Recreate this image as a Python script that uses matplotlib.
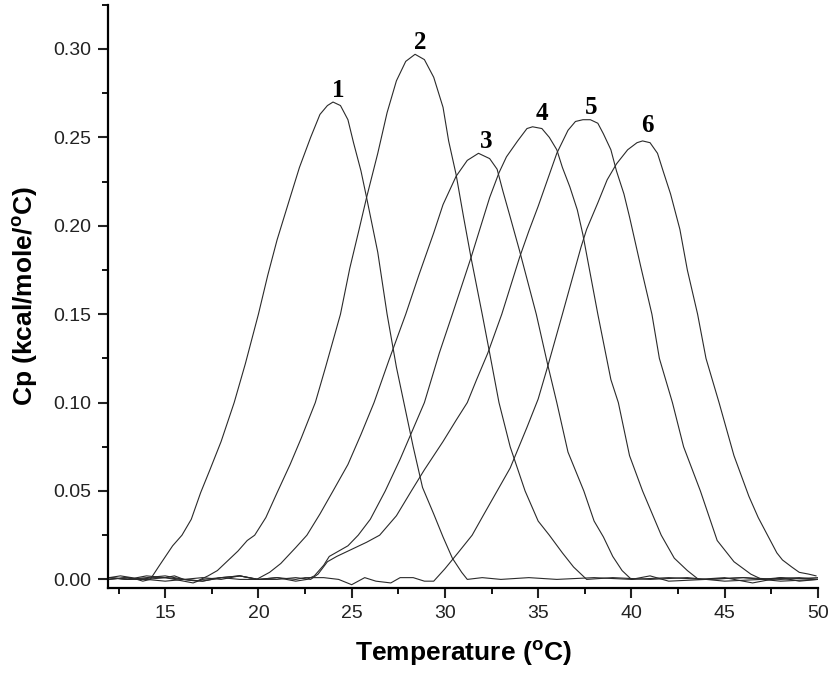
import matplotlib
matplotlib.use('Agg')
import matplotlib.pyplot as plt
from matplotlib.ticker import MultipleLocator

"""
DSC thermograms, six overlapping transitions
"""

plt.rcParams['font.family'] = ['Liberation Sans', 'DejaVu Sans']
plt.rcParams['mathtext.fontset'] = 'custom'
plt.rcParams['mathtext.rm'] = 'Liberation Sans'

# values (temperature in C, Cp in kcal/mole/C)
t1 = [12.0, 12.6, 13.2, 13.8, 14.2, 14.7, 15.4, 15.9, 16.4, 16.9, 17.4, 18.0, 18.7, 19.3, 20.0, 20.5,
      21.0, 21.7, 22.2, 22.8, 23.3, 23.7, 24.0, 24.4, 24.8, 25.1, 25.5, 25.8, 26.4, 26.9, 27.4, 27.8,
      28.3, 28.8, 29.4, 29.9, 30.4, 30.9, 31.2, 32.0, 33.0, 34.5, 36.0, 38.0, 40.0, 42.0, 44.0, 46.0,
      48.0, 50.0]
cp1 = [0.001, 0.002, 0.001, -0.001, 0.000, 0.008, 0.019, 0.025, 0.034, 0.049, 0.062, 0.078, 0.100, 0.122,
       0.150, 0.172, 0.192, 0.216, 0.233, 0.250, 0.263, 0.268, 0.270, 0.268, 0.260, 0.247, 0.231, 0.216,
       0.185, 0.150, 0.120, 0.100, 0.075, 0.052, 0.037, 0.024, 0.012, 0.004, 0.000, 0.001, 0.000, 0.001,
       0.000, 0.001, 0.000, 0.001, 0.000, 0.001, 0.000, 0.001]

t2 = [12.0, 12.8, 13.6, 14.4, 15.0, 15.5, 16.0, 16.7, 17.3, 17.8, 18.4, 18.9, 19.4, 19.8, 20.4, 21.0,
      21.7, 22.3, 23.05, 23.6, 24.4, 24.9, 25.4, 25.8, 26.4, 26.9, 27.4, 27.9, 28.4, 28.9, 29.4, 29.9,
      30.2, 30.6, 31.0, 31.4, 32.0, 32.4, 32.9, 33.5, 34.3, 35.0, 35.6, 36.3, 36.9, 37.6, 39.0, 41.0,
      43.0, 45.0, 47.0, 49.0, 50.0]
cp2 = [0.000, 0.001, 0.000, 0.001, 0.001, 0.002, 0.000, -0.001, 0.002, 0.005, 0.011, 0.016, 0.022, 0.025,
       0.035, 0.049, 0.065, 0.080, 0.100, 0.120, 0.150, 0.176, 0.198, 0.216, 0.241, 0.264, 0.282, 0.293,
       0.297, 0.294, 0.284, 0.267, 0.248, 0.229, 0.205, 0.182, 0.150, 0.128, 0.100, 0.075, 0.050, 0.033,
       0.025, 0.015, 0.007, 0.000, 0.001, 0.000, 0.001, -0.001, 0.000, 0.001, 0.000]

t3 = [12.0, 13.0, 14.0, 15.0, 16.0, 16.5, 17.0, 18.0, 19.0, 19.9, 20.6, 21.2, 22.0, 22.6, 23.3, 24.0,
      24.8, 25.5, 26.2, 27.0, 27.9, 28.6, 29.4, 29.9, 30.6, 31.2, 31.8, 32.4, 32.8, 33.1, 33.5, 34.0,
      34.9, 35.5, 36.0, 36.6, 37.45, 38.0, 38.5, 39.0, 39.5, 40.0, 41.0, 42.0, 44.0, 46.0, 48.0, 50.0]
cp3 = [0.001, 0.000, 0.002, 0.001, -0.001, -0.002, 0.000, 0.001, 0.002, 0.000, 0.004, 0.009, 0.018, 0.025,
       0.037, 0.050, 0.065, 0.082, 0.100, 0.124, 0.150, 0.172, 0.196, 0.212, 0.228, 0.237, 0.241, 0.238,
       0.232, 0.220, 0.205, 0.186, 0.150, 0.122, 0.100, 0.072, 0.050, 0.033, 0.024, 0.013, 0.005, 0.000,
       0.002, -0.001, 0.000, 0.001, -0.001, 0.000]

t4 = [12.0, 13.0, 14.0, 15.0, 16.0, 17.0, 18.0, 19.0, 20.0, 21.0, 22.0, 22.6, 23.0, 23.5, 23.8, 24.3,
      24.8, 25.35, 26.0, 26.8, 27.6, 28.9, 29.7, 30.4, 31.4, 32.4, 32.9, 33.3, 33.9, 34.4, 34.7, 35.2,
      35.6, 36.0, 36.3, 36.7, 37.1, 37.4, 38.2, 38.9, 39.3, 39.9, 40.6, 41.6, 42.3, 43.0, 43.6, 45.0,
      46.5, 48.0, 50.0]
cp4 = [0.000, 0.001, 0.000, -0.001, 0.000, 0.001, 0.000, 0.002, 0.000, 0.001, -0.001, 0.000, 0.002, 0.008,
       0.013, 0.016, 0.019, 0.025, 0.034, 0.050, 0.068, 0.100, 0.128, 0.150, 0.182, 0.216, 0.230, 0.239,
       0.248, 0.255, 0.256, 0.255, 0.250, 0.243, 0.233, 0.222, 0.209, 0.195, 0.150, 0.113, 0.100, 0.070,
       0.050, 0.025, 0.012, 0.005, 0.000, 0.001, -0.002, 0.001, 0.000]

t5 = [12.0, 13.0, 14.0, 15.0, 16.0, 17.0, 18.0, 19.0, 20.0, 21.0, 22.0, 22.8, 23.2, 23.7, 24.2, 25.0,
      25.8, 26.5, 27.4, 28.2, 28.9, 29.9, 30.6, 31.2, 31.7, 32.3, 33.05, 34.0, 34.5, 35.0, 35.5, 36.0,
      36.6, 37.0, 37.4, 37.8, 38.2, 38.5, 38.9, 39.2, 39.6, 39.9, 40.5, 41.1, 41.5, 42.2, 42.8, 43.7,
      44.6, 45.5, 46.4, 47.0, 48.0, 49.0, 50.0]
cp5 = [0.001, 0.000, 0.001, 0.002, 0.000, -0.001, 0.001, 0.002, 0.000, 0.000, 0.001, 0.000, 0.003, 0.010,
       0.013, 0.017, 0.021, 0.025, 0.036, 0.050, 0.062, 0.078, 0.090, 0.100, 0.113, 0.128, 0.150, 0.182,
       0.197, 0.211, 0.226, 0.241, 0.254, 0.259, 0.260, 0.260, 0.258, 0.252, 0.243, 0.231, 0.218, 0.205,
       0.177, 0.150, 0.125, 0.100, 0.075, 0.050, 0.022, 0.010, 0.003, 0.000, 0.001, -0.001, 0.000]

t6 = [12.0, 13.0, 14.0, 15.0, 16.0, 17.0, 18.0, 19.0, 20.0, 21.0, 22.0, 22.5, 23.5, 24.3, 25.0, 25.7,
      26.3, 27.1, 27.6, 28.3, 28.9, 29.4, 30.0, 30.7, 31.46, 32.1, 32.8, 33.5, 34.4, 35.0, 35.5, 36.3,
      37.3, 37.6, 38.2, 38.7, 39.2, 39.8, 40.3, 40.6, 41.0, 41.4, 41.7, 42.1, 42.6, 43.0, 43.55, 44.0,
      44.7, 45.5, 46.3, 46.8, 47.3, 47.8, 48.1, 48.6, 49.0, 49.5, 49.9]
cp6 = [0.001, 0.000, 0.000, 0.001, 0.000, -0.001, 0.001, 0.000, 0.000, 0.001, 0.000, 0.001, 0.001, 0.000,
       -0.003, 0.001, -0.001, -0.002, 0.001, 0.001, -0.001, -0.001, 0.006, 0.015, 0.025, 0.037, 0.050,
       0.063, 0.086, 0.102, 0.120, 0.150, 0.188, 0.198, 0.213, 0.226, 0.235, 0.243, 0.247, 0.248, 0.247,
       0.241, 0.231, 0.218, 0.198, 0.175, 0.150, 0.125, 0.100, 0.070, 0.047, 0.035, 0.025, 0.015, 0.011,
       0.007, 0.004, 0.003, 0.002]

temps = [t1, t2, t3, t4, t5, t6]
cps = [cp1, cp2, cp3, cp4, cp5, cp6]
peak_labels = ['1', '2', '3', '4', '5', '6']
label_x = [24.3, 28.7, 32.2, 35.2, 37.85, 40.85]
label_y = [0.273, 0.300, 0.244, 0.260, 0.263, 0.253]

fig = plt.figure(figsize=(8.38, 6.84), dpi=100)
ax = fig.add_axes([0.129, 0.140, 0.847, 0.853])

for t, cp in zip(temps, cps):
    ax.plot(t, cp, color='#2a2a2a', linewidth=0.8)

for lab, lx, ly in zip(peak_labels, label_x, label_y):
    ax.text(lx, ly, lab, family=['Liberation Serif', 'DejaVu Serif'], fontweight='bold',
            fontsize=18, ha='center', va='baseline')

ax.set_xlim(11.94, 50)
ax.set_ylim(-0.005, 0.325)
ax.xaxis.set_major_locator(MultipleLocator(5))
ax.xaxis.set_minor_locator(MultipleLocator(2.5))
ax.yaxis.set_major_locator(MultipleLocator(0.05))
ax.yaxis.set_minor_locator(MultipleLocator(0.025))
ax.yaxis.set_major_formatter(plt.FormatStrFormatter('%.2f'))

ax.spines['top'].set_visible(False)
ax.spines['right'].set_visible(False)
ax.spines['left'].set_linewidth(1.6)
ax.spines['bottom'].set_linewidth(1.6)
ax.tick_params(which='major', direction='out', length=7, width=1.5, labelsize=14, pad=5, colors='#222222')
ax.tick_params(which='minor', direction='out', length=4, width=1.3)

ax.set_xlabel(r'Temperature ($^{\mathregular{o}}$C)', fontsize=19, fontweight='bold', labelpad=12)
ax.set_ylabel(r'Cp (kcal/mole/$^{\mathregular{o}}$C)', fontsize=19, fontweight='bold', labelpad=10)

fig.savefig('out.png', dpi=100)
